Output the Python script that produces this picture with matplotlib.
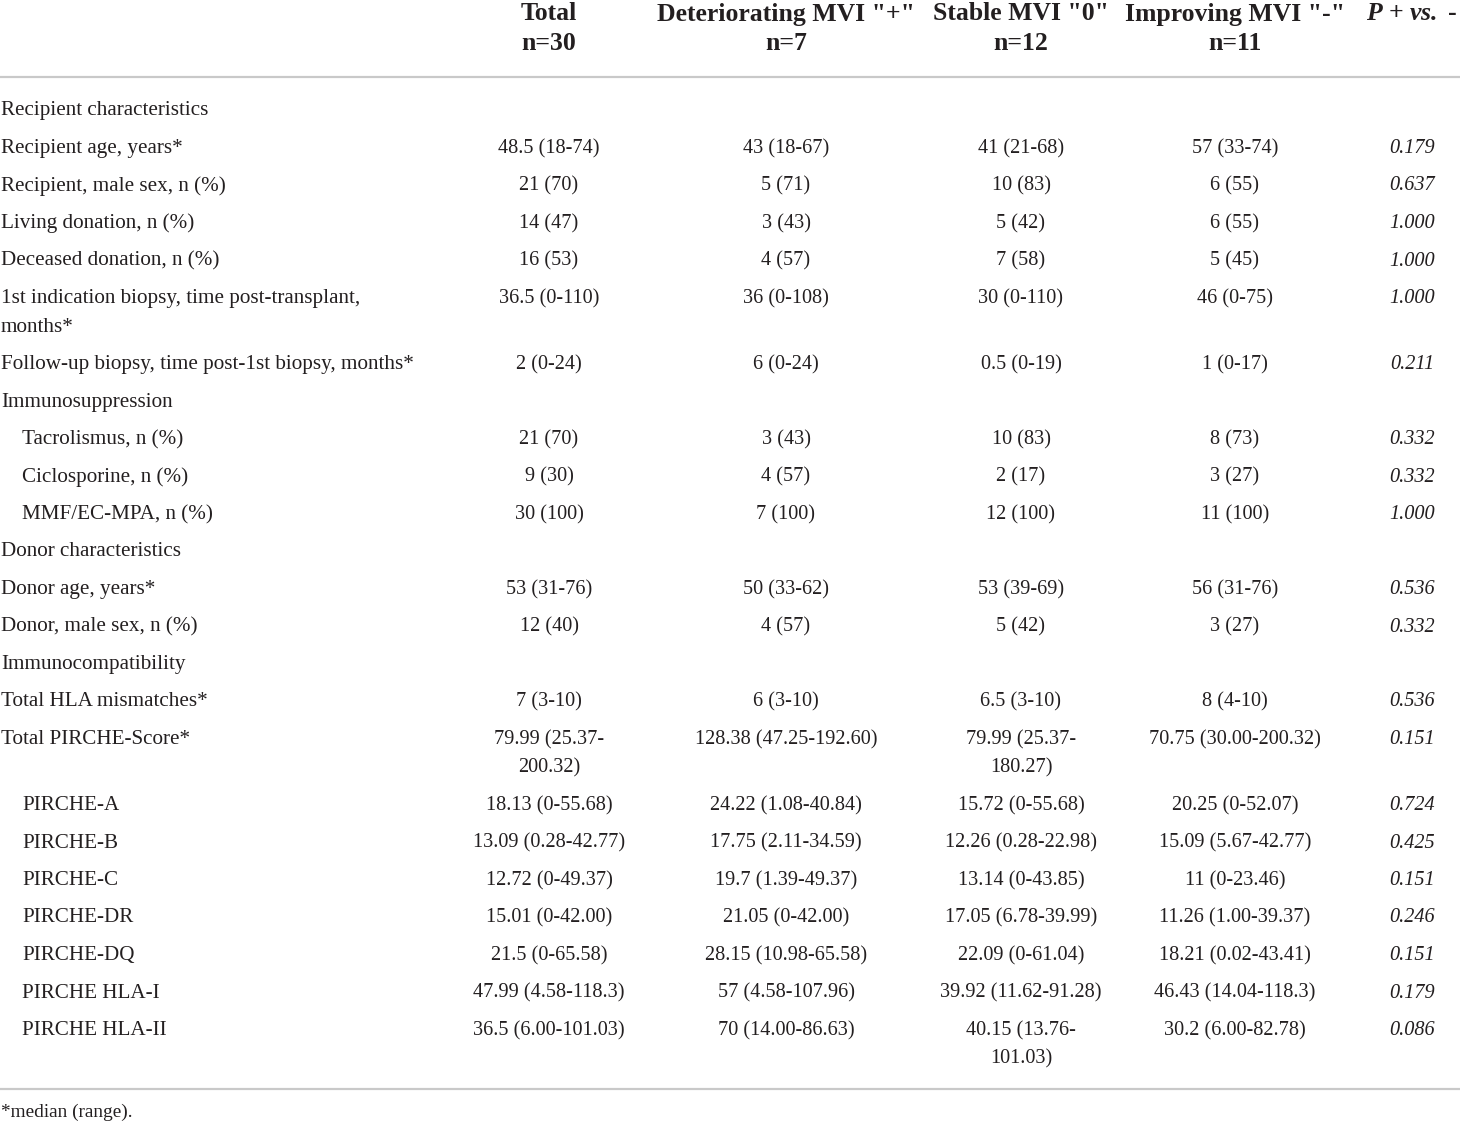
import matplotlib.pyplot as plt

plt.rcParams['mathtext.fontset'] = 'custom'
plt.rcParams['mathtext.rm'] = 'Liberation Serif'
plt.rcParams['mathtext.bf'] = 'Liberation Serif:bold'
plt.rcParams['mathtext.it'] = 'Liberation Serif:italic'
plt.rcParams['mathtext.bfit'] = 'Liberation Serif:italic:bold'

# table content
headers = ['Total', 'Deteriorating MVI "+"', 'Stable MVI "0"', 'Improving MVI "-"']
group_n = ['n=30', 'n=7', 'n=12', 'n=11']

labels = ['Recipient characteristics', 'Recipient age, years*', 'Recipient, male sex, n (%)',
          'Living donation, n (%)', 'Deceased donation, n (%)',
          '1st indication biopsy, time post-transplant,\nmonths*',
          'Follow-up biopsy, time post-1st biopsy, months*', 'Immunosuppression',
          'Tacrolismus, n (%)', 'Ciclosporine, n (%)', 'MMF/EC-MPA, n (%)',
          'Donor characteristics', 'Donor age, years*', 'Donor, male sex, n (%)',
          'Immunocompatibility', 'Total HLA mismatches*', 'Total PIRCHE-Score*',
          'PIRCHE-A', 'PIRCHE-B', 'PIRCHE-C', 'PIRCHE-DR', 'PIRCHE-DQ',
          'PIRCHE HLA-I', 'PIRCHE HLA-II']
indent = [0, 0, 0, 0, 0, 0, 0, 0, 1, 1, 1, 0, 0, 0, 0, 0, 0, 1, 1, 1, 1, 1, 1, 1]

total = ['', '48.5 (18-74)', '21 (70)', '14 (47)', '16 (53)', '36.5 (0-110)', '2 (0-24)', '',
         '21 (70)', '9 (30)', '30 (100)', '', '53 (31-76)', '12 (40)', '', '7 (3-10)',
         '79.99 (25.37-\n200.32)', '18.13 (0-55.68)', '13.09 (0.28-42.77)', '12.72 (0-49.37)',
         '15.01 (0-42.00)', '21.5 (0-65.58)', '47.99 (4.58-118.3)', '36.5 (6.00-101.03)']
deteriorating = ['', '43 (18-67)', '5 (71)', '3 (43)', '4 (57)', '36 (0-108)', '6 (0-24)', '',
                 '3 (43)', '4 (57)', '7 (100)', '', '50 (33-62)', '4 (57)', '', '6 (3-10)',
                 '128.38 (47.25-192.60)', '24.22 (1.08-40.84)', '17.75 (2.11-34.59)',
                 '19.7 (1.39-49.37)', '21.05 (0-42.00)', '28.15 (10.98-65.58)',
                 '57 (4.58-107.96)', '70 (14.00-86.63)']
stable = ['', '41 (21-68)', '10 (83)', '5 (42)', '7 (58)', '30 (0-110)', '0.5 (0-19)', '',
          '10 (83)', '2 (17)', '12 (100)', '', '53 (39-69)', '5 (42)', '', '6.5 (3-10)',
          '79.99 (25.37-\n180.27)', '15.72 (0-55.68)', '12.26 (0.28-22.98)', '13.14 (0-43.85)',
          '17.05 (6.78-39.99)', '22.09 (0-61.04)', '39.92 (11.62-91.28)',
          '40.15 (13.76-\n101.03)']
improving = ['', '57 (33-74)', '6 (55)', '6 (55)', '5 (45)', '46 (0-75)', '1 (0-17)', '',
             '8 (73)', '3 (27)', '11 (100)', '', '56 (31-76)', '3 (27)', '', '8 (4-10)',
             '70.75 (30.00-200.32)', '20.25 (0-52.07)', '15.09 (5.67-42.77)', '11 (0-23.46)',
             '11.26 (1.00-39.37)', '18.21 (0.02-43.41)', '46.43 (14.04-118.3)',
             '30.2 (6.00-82.78)']
p_values = ['', '0.179', '0.637', '1.000', '1.000', '1.000', '0.211', '', '0.332', '0.332',
            '1.000', '', '0.536', '0.332', '', '0.536', '0.151', '0.724', '0.425', '0.151',
            '0.246', '0.151', '0.179', '0.086']
footnote = '*median (range).'

W, H = 1460, 1123
fig = plt.figure(figsize=(W / 100, H / 100), dpi=100)
ax = fig.add_axes([0, 0, 1, 1])
ax.set_xlim(0, W)
ax.set_ylim(H, 0)
ax.axis('off')

font = 'Liberation Serif'
fs_lab = 15.2
fs_val = 14.6
col_x = [549, 786, 1021, 1235]
p_x = 1412
txt = '#231f20'
rule = '#c9c9c9'
row_h = 37.5
wrap_h = 28.5
dy = 2

# header
for x, h, n in zip(col_x, headers, group_n):
    ax.text(x, 14, h, ha='center', va='center', fontsize=18.5, fontweight='bold',
            family=font, color=txt)
    ax.text(x, 44, n, ha='center', va='center', fontsize=18.5, fontweight='bold',
            family=font, color=txt)
ax.text(p_x, 14, r'$\mathbfit{P}$ + $\mathbfit{vs.}$ -', ha='center', va='center',
        fontsize=18.5, fontweight='bold', family=font, color=txt)

ax.plot([0, W], [77, 77], color=rule, lw=1.6)

y = 109
for i, lab in enumerate(labels):
    x0 = 22 if indent[i] else 1
    lines = lab.split('\n')
    extra = 0
    for k, part in enumerate(lines):
        ax.text(x0, y + dy + k * wrap_h, part, ha='left', va='center', fontsize=fs_lab,
                family=font, color=txt)
    if len(lines) > 1:
        extra = wrap_h
    for x, col in zip(col_x, [total, deteriorating, stable, improving]):
        parts = col[i].split('\n')
        for k, part in enumerate(parts):
            ax.text(x, y + dy + k * wrap_h, part, ha='center', va='center', fontsize=fs_val,
                    family=font, color=txt)
        if len(parts) > 1:
            extra = wrap_h
    ax.text(p_x, y + dy, p_values[i], ha='center', va='center', fontsize=fs_val, family=font,
            style='italic', color=txt)
    y += row_h + extra

ax.plot([0, W], [1089, 1089], color=rule, lw=1.6)
ax.text(1, 1112, footnote, ha='left', va='center', fontsize=13.9, family=font, color=txt)

fig.savefig('out.png', dpi=100, facecolor='white')
